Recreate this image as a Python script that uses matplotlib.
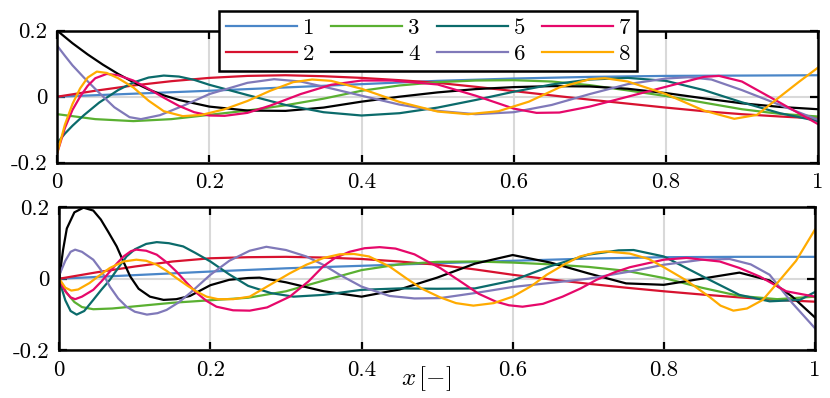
"""Mode shapes 1-8, two panels sharing one legend."""

import matplotlib
matplotlib.use("Agg")
import matplotlib.pyplot as plt

plt.rcParams["font.family"] = ["cmr10", "DejaVu Serif"]
plt.rcParams["mathtext.fontset"] = "cm"
plt.rcParams["axes.unicode_minus"] = False
plt.rcParams["axes.formatter.use_mathtext"] = True

LABELS = ["1", "2", "3", "4", "5", "6", "7", "8"]
COLORS = ["#4a86c8", "#d7122f", "#5ab031", "#000000",
          "#0b6b6b", "#8079b9", "#e6086a", "#ffab00"]

X_TICKS = [0, 0.2, 0.4, 0.6, 0.8, 1]
X_TICK_LABELS = ["0", "0.2", "0.4", "0.6", "0.8", "1"]
Y_TICKS = [-0.2, 0, 0.2]
Y_TICK_LABELS = ["-0.2", "0", "0.2"]

STEP10 = [0, 0.1, 0.2, 0.3, 0.4, 0.5, 0.6, 0.7, 0.8, 0.9, 1.0]
STEP05 = [0, .05, .1, .15, .2, .25, .3, .35, .4, .45, .5,
          .55, .6, .65, .7, .75, .8, .85, .9, .95, 1]

# ---- top panel ---------------------------------------------------------
TOP_X1 = STEP10
TOP_Y1 = [0.0, 0.009, 0.018, 0.028, 0.038, 0.048, 0.055, 0.060, 0.063, 0.064, 0.065]

TOP_X2 = STEP05
TOP_Y2 = [0.0, 0.018, 0.034, 0.047, 0.057, 0.063, 0.065, 0.062, 0.057, 0.050, 0.042,
          0.030, 0.017, 0.004, -0.009, -0.021, -0.033, -0.044, -0.053, -0.060, -0.066]

TOP_X3 = STEP05
TOP_Y3 = [-0.053, -0.068, -0.074, -0.068, -0.055, -0.042, -0.026, -0.006, 0.018, 0.034, 0.044,
          0.049, 0.050, 0.046, 0.035, 0.019, 0.002, -0.018, -0.038, -0.052, -0.060]

TOP_X4 = [0, 0.02, 0.04, 0.06, 0.08, 0.1, 0.12, 0.14, 0.16, 0.2, 0.25, 0.3, 0.35, 0.4,
          0.45, 0.5, 0.55, 0.6, 0.65, 0.7, 0.75, 0.8, 0.85, 0.9, 0.95, 1]
TOP_Y4 = [0.2, 0.162, 0.128, 0.097, 0.069, 0.044, 0.022, 0.004, -0.01, -0.03, -0.042, -0.043,
          -0.033, -0.015, 0.0, 0.013, 0.023, 0.029, 0.032, 0.031, 0.024, 0.011, -0.005,
          -0.02, -0.031, -0.038]

TOP_X5 = [0, 0.01, 0.02, 0.035, 0.055, 0.08, 0.1, 0.12, 0.14, 0.16, 0.18, 0.2, 0.25, 0.3,
          0.35, 0.4, 0.45, 0.5, 0.55, 0.6, 0.65, 0.7, 0.75, 0.8, 0.85, 0.9, 0.95, 1]
TOP_Y5 = [-0.14, -0.112, -0.088, -0.056, -0.018, 0.02, 0.043, 0.058, 0.064, 0.061, 0.051,
          0.036, 0.005, -0.025, -0.047, -0.057, -0.050, -0.033, -0.010, 0.015, 0.037,
          0.052, 0.057, 0.048, 0.020, -0.017, -0.050, -0.074]

TOP_X6 = [0, 0.01, 0.02, 0.035, 0.055, 0.075, 0.095, 0.11, 0.135, 0.165, 0.2, 0.25, 0.285,
          0.32, 0.36, 0.4, 0.45, 0.5, 0.55, 0.6, 0.65, 0.7, 0.75, 0.8, 0.83, 0.86, 0.9,
          0.95, 1]
TOP_Y6 = [0.154, 0.124, 0.095, 0.058, 0.012, -0.032, -0.062, -0.068, -0.056, -0.028, 0.008,
          0.042, 0.053, 0.046, 0.025, 0.003, -0.024, -0.043, -0.053, -0.047, -0.025, 0.008,
          0.038, 0.055, 0.059, 0.052, 0.02, -0.025, -0.07]

TOP_X7 = [0, 0.01, 0.02, 0.03, 0.04, 0.05, 0.065, 0.08, 0.1, 0.12, 0.14, 0.16, 0.18, 0.2,
          0.22, 0.25, 0.28, 0.32, 0.36, 0.4, 0.44, 0.5, 0.55, 0.6, 0.63, 0.66, 0.7, 0.75,
          0.8, 0.85, 0.87, 0.9, 0.95, 1]
TOP_Y7 = [-0.17, -0.095, -0.04, 0.0, 0.033, 0.056, 0.069, 0.065, 0.049, 0.024, -0.003,
          -0.028, -0.047, -0.057, -0.058, -0.049, -0.027, 0.008, 0.036, 0.049, 0.049, 0.037,
          0.003, -0.036, -0.049, -0.048, -0.030, 0.0, 0.030, 0.060, 0.063, 0.046, -0.018,
          -0.083]

TOP_X8 = [0, 0.01, 0.02, 0.03, 0.04, 0.052, 0.065, 0.08, 0.1, 0.12, 0.14, 0.165, 0.19, 0.22,
          0.25, 0.28, 0.31, 0.335, 0.36, 0.4, 0.45, 0.5, 0.54, 0.58, 0.62, 0.66, 0.7, 0.72,
          0.75, 0.8, 0.85, 0.89, 0.92, 0.95, 0.975, 1]
TOP_Y8 = [-0.17, -0.085, -0.022, 0.025, 0.058, 0.076, 0.072, 0.056, 0.028, -0.012, -0.044,
          -0.059, -0.055, -0.038, -0.013, 0.018, 0.044, 0.052, 0.048, 0.024, -0.016, -0.045,
          -0.053, -0.044, -0.015, 0.028, 0.053, 0.056, 0.046, 0.008, -0.042, -0.067, -0.055,
          0.0, 0.045, 0.088]

# ---- bottom panel ------------------------------------------------------
BOT_X1 = STEP10
BOT_Y1 = [0.0, 0.01, 0.02, 0.029, 0.036, 0.043, 0.05, 0.056, 0.06, 0.061, 0.061]

BOT_X2 = STEP05
BOT_Y2 = [0.0, 0.018, 0.034, 0.048, 0.057, 0.06, 0.061, 0.059, 0.055, 0.048, 0.039,
          0.026, 0.011, -0.002, -0.014, -0.025, -0.035, -0.044, -0.052, -0.059, -0.064]

BOT_X3 = [0, 0.01, 0.02, 0.03, 0.045, 0.07, 0.1, 0.15, 0.2, 0.25, 0.3, 0.35, 0.4, 0.45,
          0.5, 0.55, 0.6, 0.65, 0.7, 0.75, 0.8, 0.85, 0.9, 0.95, 1]
BOT_Y3 = [-0.005, -0.04, -0.065, -0.079, -0.085, -0.083, -0.077, -0.067, -0.06, -0.053,
          -0.035, -0.005, 0.024, 0.04, 0.047, 0.048, 0.045, 0.04, 0.033, 0.022, 0.002,
          -0.025, -0.048, -0.057, -0.05]

BOT_X4 = [0, 0.005, 0.01, 0.02, 0.032, 0.045, 0.055, 0.065, 0.076, 0.085, 0.094, 0.105,
          0.12, 0.138, 0.155, 0.173, 0.2, 0.225, 0.25, 0.265, 0.3, 0.35, 0.4, 0.45, 0.5,
          0.55, 0.6, 0.65, 0.7, 0.75, 0.8, 0.85, 0.9, 0.94, 0.97, 1]
BOT_Y4 = [0.0, 0.08, 0.14, 0.185, 0.198, 0.19, 0.165, 0.13, 0.09, 0.047, 0.006, -0.028,
          -0.05, -0.059, -0.057, -0.048, -0.018, -0.003, 0.002, 0.003, -0.01, -0.035, -0.05,
          -0.03, 0.003, 0.042, 0.066, 0.045, 0.015, -0.013, -0.017, 0.0, 0.017, -0.005,
          -0.05, -0.108]

BOT_X5 = [0, 0.008, 0.015, 0.023, 0.033, 0.045, 0.056, 0.067, 0.078, 0.089, 0.1, 0.115,
          0.129, 0.145, 0.164, 0.18, 0.2, 0.225, 0.25, 0.28, 0.31, 0.35, 0.4, 0.45, 0.5,
          0.55, 0.6, 0.65, 0.7, 0.74, 0.76, 0.8, 0.85, 0.9, 0.94, 0.98, 1]
BOT_Y5 = [-0.005, -0.06, -0.09, -0.1, -0.09, -0.059, -0.03, -0.003, 0.03, 0.062, 0.082,
          0.097, 0.102, 0.099, 0.09, 0.072, 0.048, 0.012, -0.02, -0.04, -0.05, -0.045,
          -0.031, -0.027, -0.028, -0.027, -0.005, 0.035, 0.067, 0.079, 0.08, 0.062, 0.008,
          -0.045, -0.063, -0.059, -0.037]

BOT_X6 = [0, 0.008, 0.015, 0.021, 0.03, 0.045, 0.055, 0.067, 0.078, 0.089, 0.1, 0.116,
          0.13, 0.142, 0.158, 0.173, 0.2, 0.225, 0.252, 0.274, 0.3, 0.327, 0.35, 0.371, 0.4,
          0.437, 0.47, 0.504, 0.55, 0.6, 0.666, 0.7, 0.755, 0.8, 0.851, 0.887, 0.915, 0.94,
          0.97, 1]
BOT_Y6 = [0.01, 0.05, 0.075, 0.081, 0.075, 0.053, 0.025, -0.022, -0.055, -0.078, -0.092,
          -0.1, -0.096, -0.087, -0.066, -0.04, 0.011, 0.05, 0.078, 0.089, 0.08, 0.062, 0.038,
          0.011, -0.022, -0.048, -0.055, -0.054, -0.04, -0.023, -0.008, 0.0, 0.02, 0.039,
          0.053, 0.055, 0.04, 0.011, -0.068, -0.138]

BOT_X7 = [0, 0.008, 0.015, 0.021, 0.03, 0.045, 0.056, 0.067, 0.076, 0.085, 0.095, 0.102,
          0.115, 0.129, 0.142, 0.155, 0.168, 0.182, 0.195, 0.208, 0.23, 0.252, 0.275, 0.305,
          0.33, 0.349, 0.365, 0.384, 0.404, 0.424, 0.445, 0.47, 0.49, 0.504, 0.534, 0.555,
          0.578, 0.595, 0.613, 0.64, 0.666, 0.69, 0.711, 0.735, 0.755, 0.8, 0.83, 0.874, 0.9,
          0.927, 0.962, 1]
BOT_Y7 = [-0.005, -0.035, -0.052, -0.057, -0.05, -0.031, -0.007, 0.02, 0.042, 0.062, 0.077,
          0.081, 0.078, 0.067, 0.046, 0.02, -0.01, -0.04, -0.062, -0.078, -0.088, -0.089,
          -0.08, -0.05, -0.007, 0.034, 0.058, 0.075, 0.085, 0.088, 0.084, 0.068, 0.045, 0.03,
          -0.012, -0.042, -0.064, -0.074, -0.078, -0.07, -0.05, -0.027, -0.003, 0.018, 0.032,
          0.053, 0.058, 0.048, 0.03, 0.006, -0.035, -0.05]

BOT_X8 = [0, 0.008, 0.016, 0.025, 0.04, 0.055, 0.067, 0.085, 0.102, 0.115, 0.129, 0.142,
          0.155, 0.17, 0.182, 0.195, 0.21, 0.23, 0.252, 0.283, 0.305, 0.327, 0.35, 0.371,
          0.39, 0.41, 0.437, 0.46, 0.48, 0.504, 0.525, 0.548, 0.575, 0.6, 0.625, 0.645, 0.67,
          0.689, 0.71, 0.724, 0.755, 0.78, 0.8, 0.83, 0.86, 0.875, 0.892, 0.91, 0.931, 0.953,
          0.975, 1]
BOT_Y8 = [0.0, -0.025, -0.033, -0.03, -0.012, 0.012, 0.03, 0.048, 0.053, 0.05, 0.039, 0.022,
          0.002, -0.02, -0.036, -0.05, -0.057, -0.057, -0.05, -0.012, 0.015, 0.039, 0.058,
          0.068, 0.069, 0.062, 0.034, 0.0, -0.028, -0.052, -0.068, -0.075, -0.068, -0.05,
          -0.02, 0.011, 0.042, 0.062, 0.073, 0.076, 0.07, 0.055, 0.032, -0.005, -0.05,
          -0.075, -0.089, -0.083, -0.059, -0.005, 0.05, 0.137]

TOP = [(TOP_X1, TOP_Y1), (TOP_X2, TOP_Y2), (TOP_X3, TOP_Y3), (TOP_X4, TOP_Y4),
       (TOP_X5, TOP_Y5), (TOP_X6, TOP_Y6), (TOP_X7, TOP_Y7), (TOP_X8, TOP_Y8)]
BOTTOM = [(BOT_X1, BOT_Y1), (BOT_X2, BOT_Y2), (BOT_X3, BOT_Y3), (BOT_X4, BOT_Y4),
          (BOT_X5, BOT_Y5), (BOT_X6, BOT_Y6), (BOT_X7, BOT_Y7), (BOT_X8, BOT_Y8)]


def style_axes(ax):
    """Boxed axes, inward ticks on every side, light grid."""
    ax.set_xlim(0, 1)
    ax.set_ylim(-0.2, 0.2)
    ax.set_xticks(X_TICKS, X_TICK_LABELS)
    ax.set_yticks(Y_TICKS, Y_TICK_LABELS)
    ax.tick_params(direction="in", top=True, right=True, length=5.5, width=1.6,
                   labelsize=16.5, pad=7)
    ax.grid(True, color="#d9d9d9", lw=1.5)
    ax.set_axisbelow(True)
    for sp in ax.spines.values():
        sp.set_linewidth(1.8)


def draw(ax, curves):
    handles = []
    for (x, y), c, lab in zip(curves, COLORS, LABELS):
        h, = ax.plot(x, y, color=c, lw=1.6, label=lab, solid_joinstyle="round")
        handles.append(h)
    return handles


def main():
    fig = plt.figure(figsize=(8.3, 3.98), dpi=100)
    ax_top = fig.add_axes([0.069, 0.5912, 0.9165, 0.3317])
    ax_bot = fig.add_axes([0.0714, 0.1194, 0.9105, 0.3606])

    handles = draw(ax_top, TOP)
    draw(ax_bot, BOTTOM)
    style_axes(ax_top)
    style_axes(ax_bot)

    ax_bot.set_xlabel(r"$x\,[-]$", fontsize=18)
    ax_bot.xaxis.set_label_coords(0.486, -0.095)

    leg = fig.legend(handles, LABELS, loc="upper center", bbox_to_anchor=(0.516, 1.0),
                     ncol=4, fontsize=16.5, frameon=True, fancybox=False,
                     framealpha=1, edgecolor="k", handlelength=3.1,
                     handletextpad=0.25, columnspacing=0.75, labelspacing=0.25,
                     borderpad=0.3)
    leg.get_frame().set_linewidth(1.8)

    fig.savefig("out.png", dpi=100)
    plt.close(fig)


if __name__ == "__main__":
    main()
